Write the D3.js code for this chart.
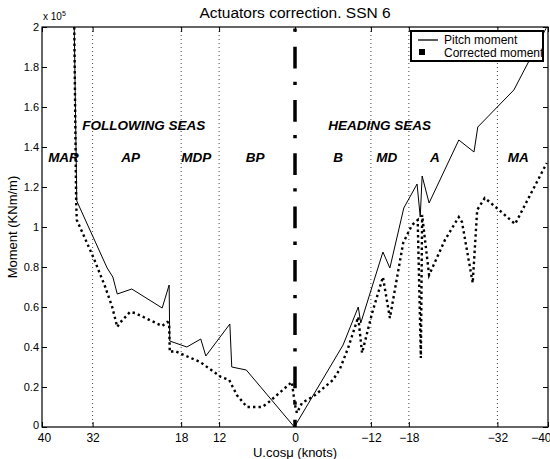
<!DOCTYPE html>
<html>
<head>
<meta charset="utf-8">
<script src="https://cdn.jsdelivr.net/npm/d3@7"></script>
<style>
  body { margin: 0; background: #fff; }
  text { font-family: "Liberation Sans", Arial, Helvetica, sans-serif; }
</style>
</head>
<body>
<div id="chart"></div>
<script>
// Data (moment in units of 1e5 KNm/m)
const pitchX = [34.9, 34.5, 29.7, 28.8, 28.1, 25.8, 21.0, 19.9, 19.8, 17.1, 14.9, 14.1, 10.3, 10.0, 7.7, 0.1,
  -7.6, -10.0, -10.4, -13.9, -15.0, -17.2, -19.3, -19.8, -20.1, -21.2, -25.9, -28.3, -28.9, -34.6, -39.8]
const pitchY = [2.0, 1.13, 0.795, 0.75, 0.665, 0.69, 0.595, 0.71, 0.43, 0.40, 0.44, 0.355, 0.515, 0.30, 0.285, 0.0,
  0.41, 0.60, 0.52, 0.875, 0.795, 1.095, 1.215, 1.05, 1.255, 1.12, 1.435, 1.375, 1.50, 1.685, 2.0]

const corrX = [34.9, 34.6, 34.5, 31.9, 30.0, 28.9, 28.1, 27.7, 26.1, 25.3, 21.0, 20.2, 19.9, 19.8, 19.0, 15.0,
  11.7, 10.4, 9.2, 7.6, 5.2, 4.3, 0.5, 0.0, -0.3, -1.1, -3.2, -6.0, -7.1, -8.4, -10.0, -10.6, -12.2, -13.9,
  -15.0, -17.1, -18.5, -19.4, -19.9, -20.1, -21.2, -23.7, -25.9, -26.4, -28.1, -28.8, -30.0, -31.9, -34.8, -39.8]
const corrY = [2.0, 1.13, 1.035, 0.85, 0.70, 0.60, 0.50, 0.52, 0.575, 0.57, 0.505, 0.525, 0.52, 0.375, 0.38, 0.325,
  0.25, 0.235, 0.16, 0.10, 0.10, 0.12, 0.225, 0.11, 0.07, 0.12, 0.16, 0.235, 0.29, 0.395, 0.55, 0.37, 0.57, 0.75,
  0.545, 0.92, 1.01, 1.035, 0.345, 1.06, 0.76, 0.935, 1.05, 1.025, 0.72, 1.085, 1.145, 1.095, 1.015, 1.32]

const xTicks = [40, 32, 18, 12, 0, -12, -18, -32, -40]
const gridTicks = [32, 18, 12, -12, -18, -32]
const yTicks = [0, 0.2, 0.4, 0.6, 0.8, 1, 1.2, 1.4, 1.6, 1.8, 2]

const seaLabels = ['FOLLOWING SEAS', 'HEADING SEAS']
const seaX = [23.9, -13.4]
const zoneLabels = ['MAR', 'AP', 'MDP', 'BP', 'B', 'MD', 'A', 'MA']
const zoneX = [36.6, 26.0, 15.6, 6.3, -6.8, -14.5, -22.1, -35.3]

const pitch = pitchX.map((x, i) => ({ x, y: pitchY[i] }))
const corr = corrX.map((x, i) => ({ x, y: corrY[i] }))

// Dimensions
let dimensions = {
  width: 550,
  height: 459,
  margin: { top: 27, bottom: 32, left: 42, right: 2 }
}
dimensions.ctrWidth = dimensions.width - dimensions.margin.left - dimensions.margin.right
dimensions.ctrHeight = dimensions.height - dimensions.margin.top - dimensions.margin.bottom

const svg = d3.select('#chart')
  .append('svg')
  .attr('width', dimensions.width)
  .attr('height', dimensions.height)

const ctr = svg.append('g')
  .attr('transform', `translate(${dimensions.margin.left},${dimensions.margin.top})`)

// Scales
const xScale = d3.scaleLinear().domain([40, -40]).range([0, dimensions.ctrWidth])
const yScale = d3.scaleLinear().domain([0, 2]).range([dimensions.ctrHeight, 0])

ctr.append('clipPath').attr('id', 'clip')
  .append('rect').attr('width', dimensions.ctrWidth).attr('height', dimensions.ctrHeight)

// vertical dotted grid
ctr.selectAll('.grid')
  .data(gridTicks)
  .join('line')
  .attr('x1', d => xScale(d)).attr('x2', d => xScale(d))
  .attr('y1', 0).attr('y2', dimensions.ctrHeight)
  .attr('stroke', '#444')
  .attr('stroke-width', 1)
  .attr('stroke-dasharray', '1,3')

// zero line (dash-dot)
ctr.append('line')
  .attr('x1', xScale(0)).attr('x2', xScale(0))
  .attr('y1', yScale(2)).attr('y2', yScale(0))
  .attr('stroke', '#000')
  .attr('stroke-width', 3.5)
  .attr('stroke-dasharray', '21.7,13.3,3.3,15')
  .attr('stroke-dashoffset', 33.6)

const line = d3.line().x(d => xScale(d.x)).y(d => yScale(d.y))

const curves = ctr.append('g').attr('clip-path', 'url(#clip)')
curves.append('path')
  .datum(pitch)
  .attr('d', line)
  .attr('fill', 'none')
  .attr('stroke', '#000')
  .attr('stroke-width', 1)

curves.append('path')
  .datum(corr)
  .attr('d', line)
  .attr('fill', 'none')
  .attr('stroke', '#000')
  .attr('stroke-width', 2.4)
  .attr('stroke-dasharray', '2.4,3.1')

// Axes (ticks inside, box)
const xAxis = d3.axisBottom(xScale).tickValues(xTicks).tickSize(-5).tickPadding(6).tickFormat(d3.format('d'))
const xAxisGroup = ctr.append('g')
  .attr('transform', `translate(0,${dimensions.ctrHeight})`)
  .call(xAxis)
xAxisGroup.select('.domain').remove()

const xTop = d3.axisTop(xScale).tickValues(xTicks).tickSize(-5).tickFormat('')
ctr.append('g').call(xTop).select('.domain').remove()

const yAxis = d3.axisLeft(yScale).tickValues(yTicks).tickSize(-5).tickPadding(3).tickFormat(d => d)
const yAxisGroup = ctr.append('g').call(yAxis)
yAxisGroup.select('.domain').remove()

const yRight = d3.axisRight(yScale).tickValues(yTicks).tickSize(-5).tickFormat('')
ctr.append('g').attr('transform', `translate(${dimensions.ctrWidth},0)`).call(yRight)
  .select('.domain').remove()

ctr.selectAll('.tick text').attr('fill', '#000')
  .style('font-family', '"Liberation Sans", Arial, sans-serif')
yAxisGroup.selectAll('.tick text').attr('font-size', 11)
// lift the bottom y label a touch so it clears the "40" below it
yAxisGroup.selectAll('.tick text').filter(d => d === 0).attr('y', -2)
xAxisGroup.selectAll('.tick text').attr('font-size', 12)
// keep the last label inside the window
xAxisGroup.selectAll('.tick text').filter(d => d === -40)
  .attr('text-anchor', 'end').attr('x', 3)
xAxisGroup.selectAll('.tick text').filter(d => d === 40).attr('x', 2)
ctr.selectAll('.tick line').attr('stroke', '#000')

ctr.append('rect')
  .attr('width', dimensions.ctrWidth).attr('height', dimensions.ctrHeight)
  .attr('fill', 'none').attr('stroke', '#000').attr('stroke-width', 1.2)

// multiplier
const mult = ctr.append('text').attr('x', 1).attr('y', -7).attr('font-size', 10)
mult.append('tspan').text('x 10')
mult.append('tspan').attr('dy', -4).attr('font-size', 7).text('5')

// titles
svg.append('text')
  .attr('x', dimensions.margin.left + xScale(0)).attr('y', 18)
  .attr('text-anchor', 'middle').attr('font-size', 15.5)
  .text('Actuators correction. SSN 6')

svg.append('text')
  .attr('x', dimensions.margin.left + xScale(0)).attr('y', 457)
  .attr('text-anchor', 'middle').attr('font-size', 13)
  .text('U.cosμ (knots)')

svg.append('text')
  .attr('transform', `translate(17,${dimensions.margin.top + yScale(1)}) rotate(-90)`)
  .attr('text-anchor', 'middle').attr('font-size', 13)
  .text('Moment (KNm/m)')

// region labels
ctr.selectAll('.sea')
  .data(seaLabels)
  .join('text')
  .attr('x', (d, i) => xScale(seaX[i]))
  .attr('y', yScale(1.485))
  .attr('text-anchor', 'middle')
  .attr('font-size', 13.5).attr('font-weight', 'bold').attr('font-style', 'italic')
  .text(d => d)

ctr.selectAll('.zone')
  .data(zoneLabels)
  .join('text')
  .attr('x', (d, i) => xScale(zoneX[i]))
  .attr('y', yScale(1.325))
  .attr('text-anchor', 'middle')
  .attr('font-size', 13.5).attr('font-weight', 'bold').attr('font-style', 'italic')
  .text(d => d)

// legend
const lg = svg.append('g').attr('transform', 'translate(411,31)')
lg.append('rect').attr('width', 132).attr('height', 30)
  .attr('fill', '#fff').attr('stroke', '#000').attr('stroke-width', 2)
lg.append('line').attr('x1', 7).attr('x2', 27).attr('y1', 9).attr('y2', 9)
  .attr('stroke', '#000').attr('stroke-width', 1.3)
lg.append('rect').attr('x', 8).attr('y', 18).attr('width', 6).attr('height', 6).attr('fill', '#000')
lg.append('text').attr('x', 33).attr('y', 13).attr('font-size', 12).text('Pitch moment')
lg.append('text').attr('x', 33).attr('y', 25.5).attr('font-size', 12).text('Corrected moment')
</script>
</body>
</html>
